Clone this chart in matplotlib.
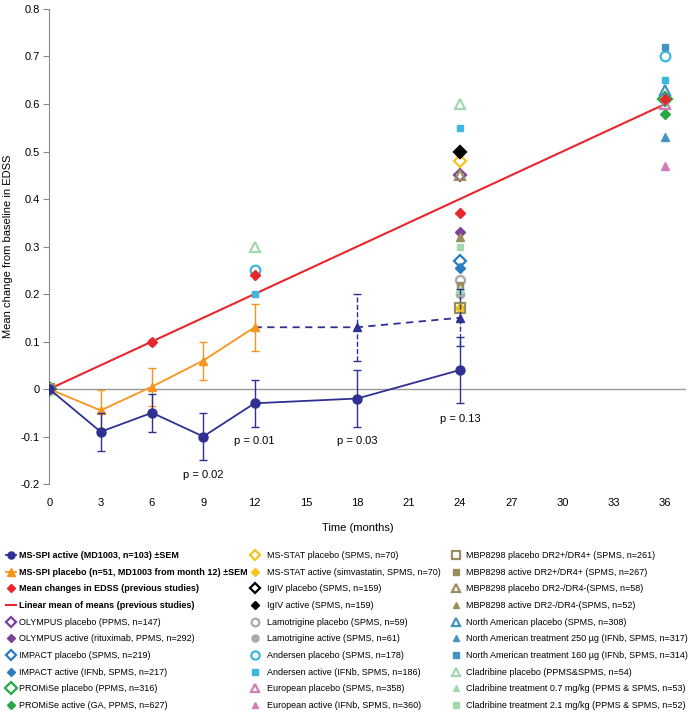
import numpy as np
import matplotlib.pyplot as plt
from matplotlib.lines import Line2D
from matplotlib.ticker import FuncFormatter

plt.rcParams['font.family'] = ['Liberation Sans', 'DejaVu Sans']
plt.rcParams['axes.unicode_minus'] = False

# MS-SPI trial (mean +/- SEM)
months = [0, 3, 6, 9, 12, 18, 24]
active_mean = [0, -0.09, -0.05, -0.10, -0.03, -0.02, 0.04]
active_sem = [0, 0.04, 0.04, 0.05, 0.05, 0.06, 0.07]

placebo_months = [0, 3, 6, 9, 12]
placebo_mean = [0, -0.045, 0.005, 0.06, 0.13]
placebo_sem = [0, 0.042, 0.04, 0.04, 0.05]

switch_months = [12, 18, 24]
switch_mean = [0.13, 0.13, 0.15]
switch_sem = [0, 0.07, 0.06]

p_months = [9, 12, 18, 24]
p_ypos = [-0.18, -0.11, -0.11, -0.063]
p_labels = ['p = 0.02', 'p = 0.01', 'p = 0.03', 'p = 0.13']

# previous studies (months, mean change)
mean_prev = ([0, 6, 12, 24, 36], [0, 0.10, 0.24, 0.37, 0.61])
linear_x = [0, 36]
linear_y = [0, 0.6]
olympus_pl = ([0, 24], [0, 0.45])
olympus_ac = ([0, 24], [0, 0.33])
impact_pl = ([0, 24], [0, 0.27])
impact_ac = ([0, 24], [0, 0.255])
promise_pl = ([0, 36], [0, 0.61])
promise_ac = ([0, 36], [0, 0.58])
msstat_pl = ([0, 24], [0, 0.48])
msstat_ac = ([0, 24], [0, 0.17])
igiv_pl = ([0, 24], [0, 0.50])
igiv_ac = ([0, 24], [0, 0.50])
lamo_pl = ([0, 24], [0, 0.23])
lamo_ac = ([0, 24], [0, 0.20])
andersen_pl = ([0, 12, 36], [0, 0.25, 0.70])
andersen_ac = ([0, 6, 12, 24, 36], [0, 0.10, 0.20, 0.55, 0.65])
european_pl = ([0, 36], [0, 0.60])
european_ac = ([0, 36], [0, 0.47])
mbp_pl_pos = ([0, 24], [0, 0.17])
mbp_ac_pos = ([0, 24], [0, 0.22])
mbp_pl_neg = ([0, 24], [0, 0.45])
mbp_ac_neg = ([0, 24], [0, 0.32])
na_pl = ([0, 36], [0, 0.63])
na_250 = ([0, 36], [0, 0.53])
na_160 = ([0, 36], [0, 0.72])
clad_pl = ([0, 12, 24], [0, 0.30, 0.60])
clad_07 = ([0, 24], [0, 0.21])
clad_21 = ([0, 24], [0, 0.30])

navy = '#2E3192'
orange = '#F7941D'
red = '#E8262B'
purple = '#7D4199'
blue = '#2B7BC0'
green = '#27A844'
yellow = '#F6C21C'
gray = '#A7A9AC'
cyan = '#3DB8DC'
pink = '#D17DB8'
olive = '#9A8E5E'
steel = '#4593C3'
lgreen = '#A3D8AE'

# label, data, marker, colour, open?, size
studies = [
    ('OLYMPUS placebo (PPMS, n=147)', olympus_pl, 'D', purple, True, 6),
    ('OLYMPUS active (rituximab, PPMS, n=292)', olympus_ac, 'D', purple, False, 5),
    ('IMPACT placebo (SPMS, n=219)', impact_pl, 'D', blue, True, 6),
    ('IMPACT active (IFNb, SPMS, n=217)', impact_ac, 'D', blue, False, 5),
    ('PROMiSe placebo (PPMS, n=316)', promise_pl, 'D', green, True, 7),
    ('PROMiSe active (GA, PPMS, n=627)', promise_ac, 'D', green, False, 5),
    ('MS-STAT placebo (SPMS, n=70)', msstat_pl, 'D', yellow, True, 6),
    ('MS-STAT active (simvastatin, SPMS, n=70)', msstat_ac, 'D', yellow, False, 5),
    ('IgIV placebo (SPMS, n=159)', igiv_pl, 'D', 'black', True, 6),
    ('IgIV active (SPMS, n=159)', igiv_ac, 'D', 'black', False, 5),
    ('Lamotrigine placebo (SPMS, n=59)', lamo_pl, 'o', gray, True, 6.5),
    ('Lamotrigine active (SPMS, n=61)', lamo_ac, 'o', gray, False, 6),
    ('Andersen placebo (SPMS, n=178)', andersen_pl, 'o', cyan, True, 7),
    ('Andersen active (IFNb, SPMS, n=186)', andersen_ac, 's', cyan, False, 5),
    ('European placebo (SPMS, n=358)', european_pl, '^', pink, True, 7),
    ('European active (IFNb, SPMS, n=360)', european_ac, '^', pink, False, 5.5),
    ('MBP8298 placebo DR2+/DR4+ (SPMS, n=261)', mbp_pl_pos, 's', olive, True, 6.5),
    ('MBP8298 active DR2+/DR4+ (SPMS, n=267)', mbp_ac_pos, 's', olive, False, 5),
    ('MBP8298 placebo DR2-/DR4-(SPMS, n=58)', mbp_pl_neg, '^', olive, True, 7),
    ('MBP8298 active DR2-/DR4-(SPMS, n=52)', mbp_ac_neg, '^', olive, False, 5.5),
    ('North American placebo (SPMS, n=308)', na_pl, '^', steel, True, 7),
    ('North American treatment 250 \u00b5g (IFNb, SPMS, n=317)', na_250, '^', steel, False, 5.5),
    ('North American treatment 160 \u00b5g (IFNb, SPMS, n=314)', na_160, 's', steel, False, 5),
    ('Cladribine placebo (PPMS&SPMS, n=54)', clad_pl, '^', lgreen, True, 7),
    ('Cladribine treatment 0.7 mg/kg (PPMS & SPMS, n=53)', clad_07, '^', lgreen, False, 5.5),
    ('Cladribine treatment 2.1 mg/kg (PPMS & SPMS, n=52)', clad_21, 's', lgreen, False, 5),
]

fig = plt.figure(figsize=(6.88, 7.14), dpi=100)
ax = fig.add_axes([0.0717, 0.3221, 0.925, 0.6653])

ax.axhline(0, color='#999999', lw=1, zorder=1)
ax.plot(linear_x, linear_y, color=red, lw=1.5, zorder=2)

handles = {}
for lab, (xs, ys), mk, col, hollow, ms in studies:
    h, = ax.plot(xs, ys, ls='none', marker=mk, ms=ms, mec=col,
                 mfc='none' if hollow else col, mew=1.6 if hollow else 1,
                 zorder=3)
    handles[lab] = h

ax.plot(mean_prev[0], mean_prev[1], ls='none', marker='D', ms=5.5,
        color=red, zorder=4)

ax.errorbar(placebo_months, placebo_mean, yerr=placebo_sem, color=orange,
            marker='^', ms=6, lw=1.3, elinewidth=1, capsize=3, zorder=6)
ax.plot(switch_months, switch_mean, color=navy, lw=1.3, ls='--', dashes=(4, 3), zorder=5)
eb = ax.errorbar(switch_months[1:], switch_mean[1:], yerr=switch_sem[1:], fmt='^',
                 color=navy, ms=6, elinewidth=1, capsize=3, zorder=5)
eb[2][0].set_linestyle('--')
ax.errorbar(months, active_mean, yerr=active_sem, color=navy, marker='o', ms=6.5,
            lw=1.3, elinewidth=1, capsize=3, zorder=7)

for m, yv, t in zip(p_months, p_ypos, p_labels):
    ax.text(m, yv, t, ha='center', va='center', fontsize=8)

ax.set_xlim(0, 37.2)
ax.set_ylim(-0.2, 0.8)
ax.set_xticks(np.arange(0, 37, 3))
ax.set_yticks(np.arange(-0.2, 0.81, 0.1))
ax.yaxis.set_major_formatter(FuncFormatter(lambda v, p: '0' if abs(v) < 1e-9 else '%.1f' % v))
for s in ['top', 'right', 'bottom']:
    ax.spines[s].set_visible(False)
ax.spines['left'].set_color('#888888')
ax.tick_params(axis='x', length=0, pad=10, labelsize=8)
ax.tick_params(axis='y', length=4, pad=3, color='#888888', labelsize=8)
ax.set_xlabel('Time (months)', fontsize=8)
ax.xaxis.set_label_coords(0.484, -0.082)
ax.set_ylabel('Mean change from baseline in EDSS', fontsize=8)
ax.yaxis.set_label_coords(-0.0566, 0.5)

# legend in three columns
col1 = [
    (Line2D([], [], color=navy, marker='o', ms=6, lw=1.3), 'MS-SPI active (MD1003, n=103) \u00b1SEM'),
    (Line2D([], [], color=orange, marker='^', ms=6, lw=1.3), 'MS-SPI placebo (n=51, MD1003 from month 12) \u00b1SEM'),
    (Line2D([], [], ls='none', color=red, marker='D', ms=5), 'Mean changes in EDSS (previous studies)'),
    (Line2D([], [], color=red, lw=1.5), 'Linear mean of means (previous studies)'),
]
col1 += [(handles[s[0]], s[0]) for s in studies[:6]]
col2 = [(handles[s[0]], s[0]) for s in studies[6:16]]
col3 = [(handles[s[0]], s[0]) for s in studies[16:]]

H = 714.0
for items, x0, pad in [(col1, 6, 0.35), (col2, 250, 0.75), (col3, 451, 0.55)]:
    leg = fig.legend([i[0] for i in items], [i[1] for i in items], loc='upper left',
                     bbox_to_anchor=(x0 / 688.0, 1 - 551 / H), frameon=False,
                     fontsize=6.5, handlelength=1.1, handletextpad=pad,
                     labelspacing=0.85, borderpad=0, borderaxespad=0, markerscale=0.85)
    if items is col1:
        for t in leg.get_texts()[:4]:
            t.set_fontweight('bold')

plt.savefig('out.png', dpi=100)
